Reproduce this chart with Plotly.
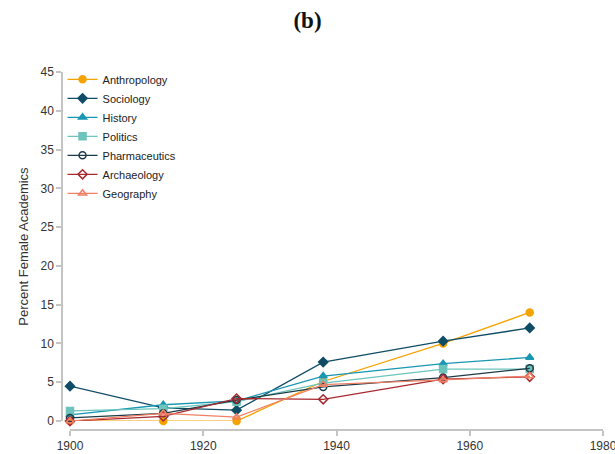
import plotly.graph_objects as go

# data
years = [1900, 1914, 1925, 1938, 1956, 1969]

anthropology = [0.0, 0.0, 0.0, 5.1, 10.0, 14.0]
sociology = [4.5, 1.7, 1.4, 7.6, 10.3, 12.0]
history = [0.8, 2.1, 2.6, 5.8, 7.4, 8.2]
politics = [1.3, 1.6, 2.5, 4.9, 6.7, 6.7]
pharmaceutics = [0.4, 1.0, 2.7, 4.4, 5.6, 6.8]
archaeology = [0.0, 0.6, 2.9, 2.8, 5.4, 5.7]
geography = [0.0, 1.0, 0.5, 4.7, 5.3, 5.8]

series = [
    ("Anthropology", anthropology, "#f5a300", "circle"),
    ("Sociology", sociology, "#0f4d66", "diamond"),
    ("History", history, "#1896b2", "triangle-up"),
    ("Politics", politics, "#6cc4bc", "square"),
    ("Pharmaceutics", pharmaceutics, "#1c3a47", "circle-open"),
    ("Archaeology", archaeology, "#a8282e", "diamond-open"),
    ("Geography", geography, "#f07f63", "triangle-up-open"),
]

fig = go.Figure()
for name, vals, col, sym in series:
    fig.add_trace(go.Scatter(
        x=years, y=vals, name=name, mode="lines+markers",
        line=dict(color=col, width=1.3),
        marker=dict(symbol=sym, size=7, color=col,
                    line=dict(color=col, width=1.5)),
        cliponaxis=False,
    ))

axis_col = "#c4c4c4"
fig.update_layout(
    width=615, height=454,
    margin=dict(l=62, r=12, t=72, b=24, autoexpand=False),
    paper_bgcolor="white", plot_bgcolor="white",
    font=dict(family="Liberation Sans, Arial, sans-serif", color="#333", size=12),
    title=dict(text="<b>(b)</b>", x=0.5, xanchor="center", y=0.956, yanchor="middle",
               automargin=False,
               font=dict(family="Liberation Serif, serif", size=23, color="#111")),
    xaxis=dict(range=[1900, 1980], domain=[0.0148, 1], anchor="free", position=0,
               tickvals=[1900, 1920, 1940, 1960, 1980], showgrid=False, zeroline=False,
               showline=True, linecolor=axis_col, linewidth=1.5, automargin=False,
               ticks="outside", ticklen=5, tickcolor=axis_col, tickwidth=1.5,
               ticklabeloverflow="allow", tickfont=dict(size=12)),
    yaxis=dict(range=[0, 45], domain=[0.025, 1], anchor="free", position=0,
               dtick=5, showgrid=False, zeroline=False,
               showline=True, linecolor=axis_col, linewidth=1.5, automargin=False,
               ticks="outside", ticklen=5, tickcolor=axis_col, tickwidth=1.5,
               tickfont=dict(size=12),
               title=dict(text="Percent Female Academics", font=dict(size=13), standoff=8)),
    legend=dict(x=0.001, y=1.02, xanchor="left", yanchor="top",
                font=dict(size=11, color="#222"), bgcolor="rgba(0,0,0,0)",
                tracegroupgap=0, itemwidth=30),
    showlegend=True,
)

# drop the default page margin so the figure fills the window
fig.write_html("out.html", config={"displayModeBar": False},
               post_script="document.body.style.margin = '0';")
